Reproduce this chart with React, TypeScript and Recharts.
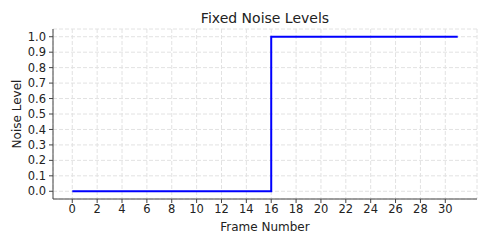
import { LineChart, Line, XAxis, YAxis, CartesianGrid, Label } from 'recharts';

const frames = [
  0, 1, 2, 3, 4, 5, 6, 7, 8, 9, 10, 11, 12, 13, 14, 15,
  16, 17, 18, 19, 20, 21, 22, 23, 24, 25, 26, 27, 28, 29, 30, 31,
];
const noiseLevels = [
  0, 0, 0, 0, 0, 0, 0, 0, 0, 0, 0, 0, 0, 0, 0, 0,
  1, 1, 1, 1, 1, 1, 1, 1, 1, 1, 1, 1, 1, 1, 1, 1,
];
const xTicks = [0, 2, 4, 6, 8, 10, 12, 14, 16, 18, 20, 22, 24, 26, 28, 30];
const yTicks = [0, 0.1, 0.2, 0.3, 0.4, 0.5, 0.6, 0.7, 0.8, 0.9, 1.0];

const font = 'DejaVu Sans, sans-serif';
const axisColor = '#444';

export default function App() {
  const chartData = frames.map((f, i) => ({ frame: f, noise: noiseLevels[i] }));

  return (
    <div style={{ position: 'absolute', left: 0, top: 0, width: 490, height: 244, background: '#fff', fontFamily: font }}>
      <LineChart width={490} height={244} data={chartData} margin={{ top: 29, right: 13, bottom: 0, left: 0 }}>
        <text x={265} y={23} textAnchor="middle" fontSize={14} fill="#222" fontFamily={font}>
          Fixed Noise Levels
        </text>
        <CartesianGrid stroke="#e2e2e2" strokeDasharray="4 2" />
        <XAxis
          dataKey="frame"
          type="number"
          domain={[-1.55, 32.55]}
          ticks={xTicks}
          interval={0}
          allowDataOverflow
          height={45}
          stroke={axisColor}
          tickSize={4}
          tickMargin={2}
          tick={{ fill: '#222', fontSize: 11.5, fontFamily: font }}
        >
          <Label value="Frame Number" position="insideTop" offset={23} fill="#222" fontSize={12} fontFamily={font} />
        </XAxis>
        <YAxis
          type="number"
          domain={[-0.05, 1.05]}
          ticks={yTicks}
          interval={0}
          allowDataOverflow
          width={53}
          stroke={axisColor}
          tickSize={4}
          tickMargin={3}
          tickFormatter={(v: number) => v.toFixed(1)}
          tick={{ fill: '#222', fontSize: 11.5, fontFamily: font }}
        >
          <Label value="Noise Level" angle={-90} position="insideLeft" offset={17} fill="#222" fontSize={12} fontFamily={font} style={{ textAnchor: 'middle' }} />
        </YAxis>
        <Line
          type="stepAfter"
          dataKey="noise"
          stroke="#0000ff"
          strokeWidth={2}
          dot={false}
          isAnimationActive={false}
        />
      </LineChart>
    </div>
  );
}
